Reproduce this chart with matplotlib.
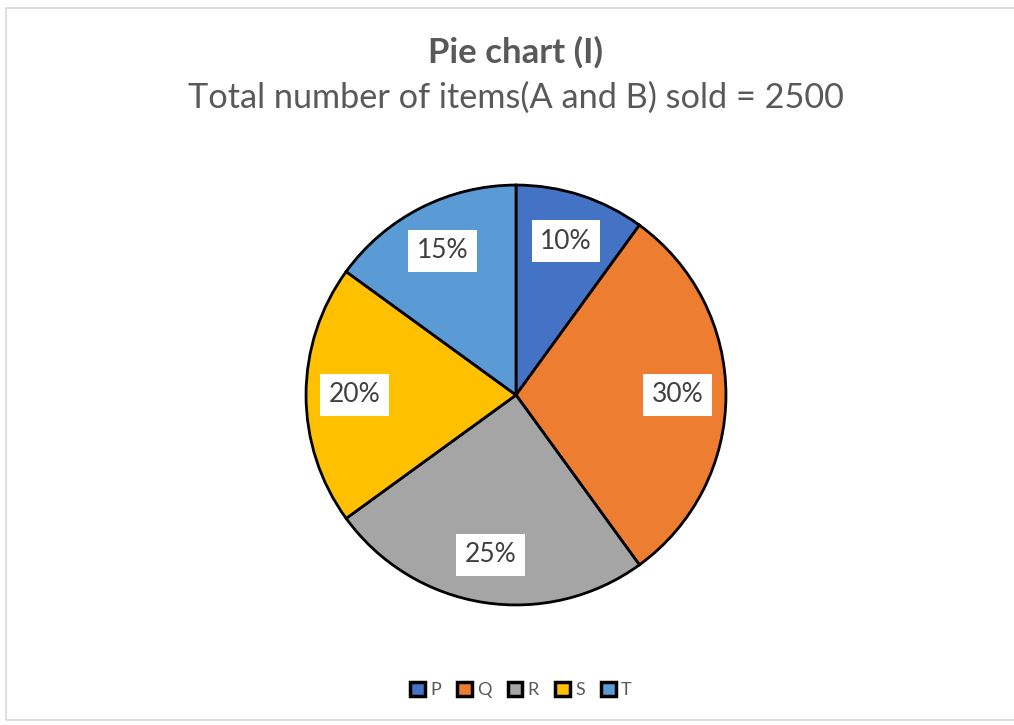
import matplotlib
matplotlib.use("Agg")
import matplotlib.pyplot as plt
from matplotlib.patches import Rectangle

categories = ["P", "Q", "R", "S", "T"]
values = [10, 30, 25, 20, 15]
labels = ["10%", "30%", "25%", "20%", "15%"]
colors = ["#4472C4", "#ED7D31", "#A5A5A5", "#FFC000", "#5B9BD5"]

plt.rcParams['font.family'] = ['Lato', 'DejaVu Sans']

W, H = 1014, 725
fig = plt.figure(figsize=(W / 100, H / 100), dpi=100)
fig.patch.set_facecolor("white")

# chart border
fig.patches.append(Rectangle((6 / W, 1 - 720 / H), 1.2, (720 - 8) / H,
                             transform=fig.transFigure, fill=False,
                             edgecolor="#D9D9D9", linewidth=1.2))

cx, cy, r = 516, 395, 211
ax = fig.add_axes([(cx - r) / W, 1 - (cy + r) / H, 2 * r / W, 2 * r / H])
wedges, texts = ax.pie(values, colors=colors, startangle=90, counterclock=False,
                       labels=labels, labeldistance=0.77,
                       wedgeprops=dict(edgecolor="black", linewidth=2))
for t in texts:
    t.set_fontsize(19)
    t.set_color("#404040")
    t.set_ha("center")
    t.set_va("center")
    t.set_bbox(dict(facecolor="white", edgecolor="none", pad=6))
ax.set_xlim(-1.005, 1.005)
ax.set_ylim(-1.005, 1.005)
ax.set_aspect("equal")
ax.axis("off")

fig.text(cx / W, 1 - 52 / H, "Pie chart (I)", ha="center", va="center",
         fontsize=25, fontweight="bold", color="#595959")
fig.text(cx / W, 1 - 98 / H, "Total number of items(A and B) sold = 2500",
         ha="center", va="center", fontsize=24.7, color="#595959")

leg = fig.legend(wedges, categories, loc="center", bbox_to_anchor=(521 / W, 1 - 690 / H),
                 ncol=5, frameon=False, fontsize=13, handlelength=0.8, handleheight=0.8,
                 handletextpad=0.3, columnspacing=0.9)
for txt in leg.get_texts():
    txt.set_color("#595959")
for h in leg.legend_handles:
    h.set_linewidth(2.5)

fig.savefig("out.png", dpi=100, facecolor="white")
